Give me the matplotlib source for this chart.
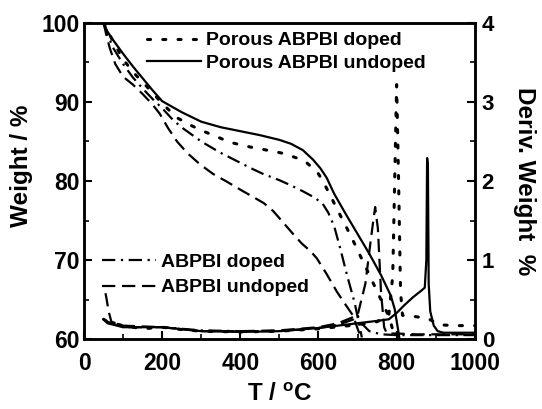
import matplotlib
matplotlib.use("Agg")
import matplotlib.pyplot as plt
from matplotlib.ticker import MultipleLocator

plt.rcParams['font.family'] = ['Liberation Sans', 'DejaVu Sans']
plt.rcParams['font.weight'] = 'bold'
plt.rcParams['mathtext.fontset'] = 'custom'
plt.rcParams['mathtext.rm'] = 'Liberation Sans:bold'
plt.rcParams['mathtext.bf'] = 'Liberation Sans:bold'
plt.rcParams['mathtext.default'] = 'bf'

# weight curves (left axis)
t_porous_undoped = [50, 60, 75, 100, 125, 150, 175, 200, 250, 300, 350, 400, 450, 500, 530, 560, 586, 605, 621, 640,
                    670, 700, 730, 760, 785, 795, 805, 810]
w_porous_undoped = [100, 98.9, 97.8, 96.1, 94.5, 93.0, 91.5, 90.1, 88.7, 87.5, 86.8, 86.3, 85.8, 85.2, 84.7, 83.9, 82.7, 81.6, 80.4, 78.4,
                    75.8, 73.3, 70.8, 68.1, 65.5, 63.8, 60.8, 59.0]

t_porous_doped = [50, 75, 100, 125, 150, 175, 200, 238, 271, 300, 340, 373, 425, 468, 509, 545, 570, 586, 600, 611,
                  630, 647, 673, 693, 714, 735, 757, 775, 785, 795]
w_porous_doped = [100, 97.6, 95.4, 93.8, 92.5, 91.2, 89.8, 88.0, 87.1, 86.4, 85.6, 84.9, 84.3, 83.9, 83.5, 82.9, 82.3, 81.6, 80.9, 80.0,
                  78.2, 76.5, 74.0, 72.0, 69.8, 67.6, 65.3, 63.4, 62.1, 60.2]

t_doped = [50, 60, 75, 100, 125, 150, 175, 202, 230, 255, 300, 348, 400, 432, 458, 500, 527, 560, 590, 611,
           625, 640, 655, 673, 693, 711]
w_doped = [100, 98.6, 96.8, 94.8, 93.1, 91.7, 90.4, 89.1, 87.6, 86.6, 85.0, 83.6, 82.3, 81.5, 80.9, 80.1, 79.5, 78.7, 77.9, 77.1,
           76.0, 74.3, 71.6, 68.1, 64.5, 60.2]

t_undoped = [50, 58, 66, 80, 100, 125, 150, 175, 194, 215, 238, 265, 297, 330, 366, 400, 432, 460, 484, 500,
             514, 535, 557, 580, 596, 620, 647, 670, 688, 706]
w_undoped = [100, 98.3, 96.8, 94.8, 93.2, 92.2, 91.0, 89.7, 88.5, 86.7, 85.0, 83.5, 82.1, 80.9, 79.9, 78.9, 78.0, 77.2, 76.2, 75.3,
             74.5, 73.3, 72.1, 71.1, 70.2, 68.3, 66.0, 64.3, 63.0, 60.5]

# derivative curves (right axis)
td_porous_doped = [50, 60, 100, 150, 200, 250, 300, 400, 500, 600, 700, 750, 780, 790, 795, 800, 805, 810, 815, 840, 880, 910, 950, 1000]
d_porous_doped = [0.25, 0.22, 0.17, 0.13, 0.15, 0.12, 0.1, 0.09, 0.1, 0.13, 0.18, 0.22, 0.3, 0.8, 2.0, 3.22, 2.0, 0.6, 0.3, 0.29, 0.26, 0.18, 0.17, 0.17]

td_porous_undoped = [50, 60, 100, 200, 300, 400, 500, 600, 700, 750, 780, 800, 820, 842, 860, 872, 876, 878, 880, 882, 886, 895, 905, 920, 1000]
d_porous_undoped = [0.25, 0.2, 0.15, 0.15, 0.1, 0.09, 0.1, 0.14, 0.2, 0.23, 0.25, 0.33, 0.43, 0.53, 0.6, 0.65, 1.0, 2.29, 2.2, 0.7, 0.35, 0.17, 0.1, 0.08, 0.08]

td_doped = [50, 60, 100, 200, 300, 400, 500, 600, 650, 690, 700, 710, 730, 760, 800, 900, 1000]
d_doped = [0.25, 0.22, 0.15, 0.15, 0.11, 0.1, 0.1, 0.14, 0.18, 0.25, 0.3, 0.2, 0.1, 0.06, 0.05, 0.05, 0.05]

td_undoped = [55, 58, 63, 70, 100, 200, 300, 400, 500, 600, 650, 700, 720, 735, 745, 752, 760, 768, 775, 800, 850, 900, 1000]
d_undoped = [0.58, 0.5, 0.35, 0.22, 0.17, 0.15, 0.1, 0.1, 0.11, 0.15, 0.2, 0.3, 0.7, 1.3, 1.67, 1.4, 0.6, 0.15, 0.07, 0.07, 0.06, 0.06, 0.06]

dotted = (0, (1, 4))
dashed = (0, (6, 3))
dashdot = (0, (6, 2.5, 1, 2.5))

fig = plt.figure(figsize=(5.42, 4.09), dpi=100)
ax = fig.add_axes([0.155, 0.171, 0.721, 0.773])
ax2 = ax.twinx()

lw = 1.6
l1, = ax.plot(t_porous_doped, w_porous_doped, color='black', lw=lw + 0.6, ls=dotted, dash_capstyle='round')
l2, = ax.plot(t_porous_undoped, w_porous_undoped, color='black', lw=lw)
l3, = ax.plot(t_doped, w_doped, color='black', lw=lw, ls=dashdot)
l4, = ax.plot(t_undoped, w_undoped, color='black', lw=lw, ls=dashed)

ax2.plot(td_porous_doped, d_porous_doped, color='black', lw=lw + 0.6, ls=dotted, dash_capstyle='round')
ax2.plot(td_porous_undoped, d_porous_undoped, color='black', lw=lw)
ax2.plot(td_doped, d_doped, color='black', lw=lw, ls=dashdot)
ax2.plot(td_undoped, d_undoped, color='black', lw=lw, ls=dashed)

ax.set_xlim(0, 1000)
ax.set_ylim(60, 100)
ax2.set_ylim(0, 4)

ax.xaxis.set_major_locator(MultipleLocator(200))
ax.xaxis.set_minor_locator(MultipleLocator(100))
ax.yaxis.set_major_locator(MultipleLocator(10))
ax.yaxis.set_minor_locator(MultipleLocator(5))
ax2.yaxis.set_major_locator(MultipleLocator(1))
ax2.yaxis.set_minor_locator(MultipleLocator(0.5))

for a in (ax, ax2):
    a.tick_params(which='major', direction='in', length=6, width=1.5, labelsize=16.5, pad=4)
    a.tick_params(which='minor', direction='in', length=3.5, width=1.2)
    for s in a.spines.values():
        s.set_linewidth(1.8)
ax.tick_params(axis='x', top=False, which='both', pad=9)
ax.tick_params(axis='y', pad=3)
ax2.tick_params(axis='y', pad=5, labelsize=16)
for lab in ax.get_xticklabels() + ax.get_yticklabels() + ax2.get_yticklabels():
    lab.set_fontweight('bold')

ax.set_xlabel(r'T / $^{o}$C', fontsize=17.5, fontweight='bold', labelpad=6)
ax.set_ylabel('Weight / %', fontsize=17.5, fontweight='bold')
ax.yaxis.set_label_coords(-0.13, 0.547)
ax2.set_ylabel('Deriv. Weight  %', fontsize=17.5, fontweight='bold', rotation=270, labelpad=30)

leg1 = ax2.legend([l1, l2], ['Porous ABPBI doped', 'Porous ABPBI undoped'],
                  loc='upper left', bbox_to_anchor=(0.161, 0.972), frameon=False,
                  prop={'size': 14, 'weight': 'bold'}, handlelength=2.8,
                  handletextpad=0.26, labelspacing=0.25, borderaxespad=0, borderpad=0)
ax2.add_artist(leg1)
ax2.legend([l3, l4], ['ABPBI doped', 'ABPBI undoped'],
           loc='upper left', bbox_to_anchor=(0.046, 0.272), frameon=False,
           prop={'size': 14, 'weight': 'bold'}, handlelength=2.8,
           handletextpad=0.26, labelspacing=0.42, borderaxespad=0, borderpad=0)

fig.savefig('out.png', dpi=100)
